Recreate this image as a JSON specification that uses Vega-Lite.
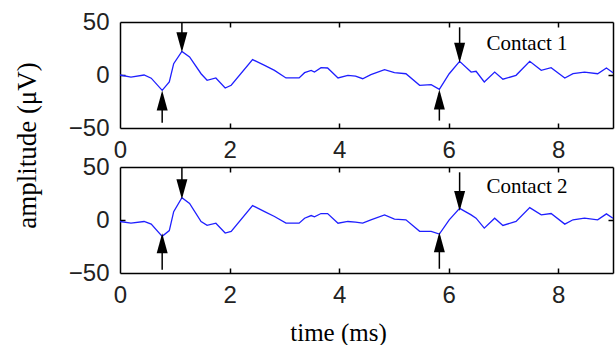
{
  "$schema": "https://vega.github.io/schema/vega-lite/v6.json",
  "background": "white",
  "padding": {"left": 14, "top": 10, "right": 2, "bottom": 0},
  "bounds": "flush",
  "spacing": 39,
  "title": {"text": "amplitude (μV)", "orient": "left", "anchor": "middle", "font": "Liberation Serif", "fontSize": 27, "fontWeight": "normal", "color": "#000", "offset": 26, "dx": 32},
  "config": {
    "view": {"stroke": null},
    "axis": {"grid": false, "domain": true, "domainColor": "#000", "domainWidth": 1.5, "ticks": false, "tickColor": "#000", "tickWidth": 1.5, "tickSize": 5, "labels": false, "labelFlush": false, "labelFont": "Liberation Sans", "labelFontSize": 24, "labelColor": "#222", "title": null, "titleFont": "Liberation Serif", "titleFontWeight": "normal", "titleColor": "#000", "titleFontSize": 25}
  },
  "datasets": {
    "signal": [
      {"panel": 1, "t": 0, "amp": 0}, {"panel": 1, "t": 0.2, "amp": -2}, {"panel": 1, "t": 0.44, "amp": 0}, {"panel": 1, "t": 0.57, "amp": -3},
      {"panel": 1, "t": 0.77, "amp": -14.5}, {"panel": 1, "t": 0.9, "amp": -6.6}, {"panel": 1, "t": 0.98, "amp": 10.7}, {"panel": 1, "t": 1.13, "amp": 22.3},
      {"panel": 1, "t": 1.27, "amp": 17}, {"panel": 1, "t": 1.48, "amp": 1.2}, {"panel": 1, "t": 1.59, "amp": -5}, {"panel": 1, "t": 1.75, "amp": -2.8},
      {"panel": 1, "t": 1.92, "amp": -12.3}, {"panel": 1, "t": 2.03, "amp": -9.7}, {"panel": 1, "t": 2.42, "amp": 14.5}, {"panel": 1, "t": 2.64, "amp": 9.1},
      {"panel": 1, "t": 2.82, "amp": 4.4}, {"panel": 1, "t": 3.03, "amp": -2.8}, {"panel": 1, "t": 3.27, "amp": -2.8}, {"panel": 1, "t": 3.37, "amp": 2.2},
      {"panel": 1, "t": 3.49, "amp": 4.4}, {"panel": 1, "t": 3.55, "amp": 2.8}, {"panel": 1, "t": 3.67, "amp": 6.9}, {"panel": 1, "t": 3.79, "amp": 6.6},
      {"panel": 1, "t": 3.98, "amp": -2.8}, {"panel": 1, "t": 4.16, "amp": -0.3}, {"panel": 1, "t": 4.3, "amp": -1}, {"panel": 1, "t": 4.43, "amp": -3.5},
      {"panel": 1, "t": 4.58, "amp": 0.3}, {"panel": 1, "t": 4.83, "amp": 5}, {"panel": 1, "t": 5.01, "amp": 2.2}, {"panel": 1, "t": 5.22, "amp": 1.2},
      {"panel": 1, "t": 5.47, "amp": -9.7}, {"panel": 1, "t": 5.68, "amp": -9.1}, {"panel": 1, "t": 5.83, "amp": -13.5}, {"panel": 1, "t": 6.01, "amp": 1.2},
      {"panel": 1, "t": 6.2, "amp": 12.9}, {"panel": 1, "t": 6.41, "amp": 2.8}, {"panel": 1, "t": 6.5, "amp": 3.5}, {"panel": 1, "t": 6.65, "amp": -6.6},
      {"panel": 1, "t": 6.84, "amp": 2.8}, {"panel": 1, "t": 6.99, "amp": -4}, {"panel": 1, "t": 7.23, "amp": -0.3}, {"panel": 1, "t": 7.48, "amp": 12.9},
      {"panel": 1, "t": 7.69, "amp": 4.4}, {"panel": 1, "t": 7.87, "amp": 6.9}, {"panel": 1, "t": 8.12, "amp": -2.8}, {"panel": 1, "t": 8.27, "amp": 1.2},
      {"panel": 1, "t": 8.48, "amp": 2.8}, {"panel": 1, "t": 8.72, "amp": 1.2}, {"panel": 1, "t": 8.88, "amp": 6.6}, {"panel": 1, "t": 9.0, "amp": 2.2},
      {"panel": 2, "t": 0, "amp": -1.4}, {"panel": 2, "t": 0.2, "amp": -3}, {"panel": 2, "t": 0.44, "amp": -1.4}, {"panel": 2, "t": 0.57, "amp": -3.9},
      {"panel": 2, "t": 0.77, "amp": -15.4}, {"panel": 2, "t": 0.9, "amp": -10}, {"panel": 2, "t": 0.98, "amp": 7.9}, {"panel": 2, "t": 1.13, "amp": 21},
      {"panel": 2, "t": 1.27, "amp": 15.7}, {"panel": 2, "t": 1.48, "amp": -1.4}, {"panel": 2, "t": 1.59, "amp": -5.1}, {"panel": 2, "t": 1.75, "amp": -3},
      {"panel": 2, "t": 1.92, "amp": -12.3}, {"panel": 2, "t": 2.03, "amp": -10.7}, {"panel": 2, "t": 2.42, "amp": 13.6}, {"panel": 2, "t": 2.64, "amp": 7.9},
      {"panel": 2, "t": 2.82, "amp": 3.3}, {"panel": 2, "t": 3.03, "amp": -3}, {"panel": 2, "t": 3.27, "amp": -3}, {"panel": 2, "t": 3.37, "amp": 1.7},
      {"panel": 2, "t": 3.49, "amp": 4.2}, {"panel": 2, "t": 3.55, "amp": 3}, {"panel": 2, "t": 3.67, "amp": 6.1}, {"panel": 2, "t": 3.79, "amp": 6.1},
      {"panel": 2, "t": 3.98, "amp": -3}, {"panel": 2, "t": 4.16, "amp": -1.4}, {"panel": 2, "t": 4.3, "amp": -2}, {"panel": 2, "t": 4.43, "amp": -3},
      {"panel": 2, "t": 4.58, "amp": 0.2}, {"panel": 2, "t": 4.83, "amp": 4.8}, {"panel": 2, "t": 5.01, "amp": 0.8}, {"panel": 2, "t": 5.22, "amp": 0.2},
      {"panel": 2, "t": 5.47, "amp": -10.7}, {"panel": 2, "t": 5.68, "amp": -10.7}, {"panel": 2, "t": 5.83, "amp": -13.3}, {"panel": 2, "t": 6.01, "amp": 0.2},
      {"panel": 2, "t": 6.2, "amp": 11}, {"panel": 2, "t": 6.41, "amp": 4.8}, {"panel": 2, "t": 6.5, "amp": 1.7}, {"panel": 2, "t": 6.65, "amp": -7.7},
      {"panel": 2, "t": 6.84, "amp": 1.7}, {"panel": 2, "t": 6.99, "amp": -5.1}, {"panel": 2, "t": 7.23, "amp": -1.4}, {"panel": 2, "t": 7.48, "amp": 11.7},
      {"panel": 2, "t": 7.69, "amp": 4.8}, {"panel": 2, "t": 7.87, "amp": 6.1}, {"panel": 2, "t": 8.12, "amp": -3.9}, {"panel": 2, "t": 8.27, "amp": 0.2},
      {"panel": 2, "t": 8.48, "amp": 1.7}, {"panel": 2, "t": 8.72, "amp": 0.2}, {"panel": 2, "t": 8.88, "amp": 5.8}, {"panel": 2, "t": 9.0, "amp": 1.7}
    ],
    "arrows": [
      {"panel": 1, "dir": "down", "t": 1.13, "from": 50, "to": 25, "head": 31},
      {"panel": 1, "dir": "up", "t": 0.77, "from": -45, "to": -18, "head": -24},
      {"panel": 1, "dir": "down", "t": 6.2, "from": 45, "to": 15, "head": 21},
      {"panel": 1, "dir": "up", "t": 5.83, "from": -43, "to": -17, "head": -23},
      {"panel": 2, "dir": "down", "t": 1.13, "from": 50, "to": 23, "head": 29},
      {"panel": 2, "dir": "up", "t": 0.77, "from": -47, "to": -16, "head": -22},
      {"panel": 2, "dir": "down", "t": 6.2, "from": 45, "to": 12, "head": 18},
      {"panel": 2, "dir": "up", "t": 5.83, "from": -46, "to": -15, "head": -21}
    ],
    "labels": [
      {"panel": 1, "label": "Contact 1", "t": 7.43, "amp": 29},
      {"panel": 2, "label": "Contact 2", "t": 7.43, "amp": 31}
    ]
  },
  "vconcat": [
    {
      "width": 493, "height": 106,
      "resolve": {"axis": {"x": "independent", "y": "independent"}},
      "layer": [
        {
          "data": {"name": "signal"},
          "transform": [{"filter": "datum.panel == 1"}],
          "mark": {"type": "line", "color": "#1f1fff", "strokeWidth": 1.3},
          "encoding": {
            "x": {"field": "t", "type": "quantitative", "scale": {"domain": [0, 9], "nice": false}, "axis": {"orient": "bottom", "values": [0, 2, 4, 6, 8], "labels": true, "labelPadding": 10}},
            "y": {"field": "amp", "type": "quantitative", "scale": {"domain": [-50, 50], "nice": false}, "axis": {"orient": "left", "values": [-50, 0, 50], "labels": true, "labelPadding": 11}}
          }
        },
        {
          "data": {"name": "arrows"},
          "transform": [{"filter": "datum.panel == 1"}],
          "mark": {"type": "rule", "color": "#000", "strokeWidth": 1.5},
          "encoding": {
            "x": {"field": "t", "type": "quantitative", "axis": {"orient": "top"}},
            "y": {"field": "from", "type": "quantitative", "axis": {"orient": "right"}},
            "y2": {"field": "to"}
          }
        },
        {
          "data": {"name": "arrows"},
          "transform": [{"filter": "datum.panel == 1 && datum.dir == 'down'"}],
          "mark": {"type": "point", "shape": "M-0.55,-1L0.55,-1L0,1Z", "filled": true, "color": "#000", "size": 400, "opacity": 1},
          "encoding": {
            "x": {"field": "t", "type": "quantitative", "axis": {"orient": "top", "offset": -106, "domain": false, "ticks": true, "values": [2, 4, 6, 8]}},
            "y": {"field": "head", "type": "quantitative", "axis": {"orient": "right", "offset": -493, "domain": false, "ticks": true, "values": [0]}}
          }
        },
        {
          "data": {"name": "arrows"},
          "transform": [{"filter": "datum.panel == 1 && datum.dir == 'up'"}],
          "mark": {"type": "point", "shape": "M-0.55,1L0.55,1L0,-1Z", "filled": true, "color": "#000", "size": 400, "opacity": 1},
          "encoding": {
            "x": {"field": "t", "type": "quantitative", "axis": {"orient": "bottom", "offset": -106, "domain": false, "ticks": true, "values": [2, 4, 6, 8]}},
            "y": {"field": "head", "type": "quantitative", "axis": {"orient": "left", "offset": -493, "domain": false, "ticks": true, "values": [0]}}
          }
        },
        {
          "data": {"name": "labels"},
          "transform": [{"filter": "datum.panel == 1"}],
          "mark": {"type": "text", "font": "Liberation Serif", "fontSize": 21, "color": "#000", "align": "center", "baseline": "middle"},
          "encoding": {"x": {"field": "t", "type": "quantitative", "axis": null}, "y": {"field": "amp", "type": "quantitative", "axis": null}, "text": {"field": "label"}}
        }
      ]
    },
    {
      "width": 493, "height": 106,
      "resolve": {"axis": {"x": "independent", "y": "independent"}},
      "layer": [
        {
          "data": {"name": "signal"},
          "transform": [{"filter": "datum.panel == 2"}],
          "mark": {"type": "line", "color": "#1f1fff", "strokeWidth": 1.3},
          "encoding": {
            "x": {"field": "t", "type": "quantitative", "scale": {"domain": [0, 9], "nice": false}, "axis": {"orient": "bottom", "values": [0, 2, 4, 6, 8], "labels": true, "labelPadding": 10, "title": "time (ms)", "titlePadding": 13, "titleX": 218}},
            "y": {"field": "amp", "type": "quantitative", "scale": {"domain": [-50, 50], "nice": false}, "axis": {"orient": "left", "values": [-50, 0, 50], "labels": true, "labelPadding": 11}}
          }
        },
        {
          "data": {"name": "arrows"},
          "transform": [{"filter": "datum.panel == 2"}],
          "mark": {"type": "rule", "color": "#000", "strokeWidth": 1.5},
          "encoding": {
            "x": {"field": "t", "type": "quantitative", "axis": {"orient": "top"}},
            "y": {"field": "from", "type": "quantitative", "axis": {"orient": "right"}},
            "y2": {"field": "to"}
          }
        },
        {
          "data": {"name": "arrows"},
          "transform": [{"filter": "datum.panel == 2 && datum.dir == 'down'"}],
          "mark": {"type": "point", "shape": "M-0.55,-1L0.55,-1L0,1Z", "filled": true, "color": "#000", "size": 400, "opacity": 1},
          "encoding": {
            "x": {"field": "t", "type": "quantitative", "axis": {"orient": "top", "offset": -106, "domain": false, "ticks": true, "values": [2, 4, 6, 8]}},
            "y": {"field": "head", "type": "quantitative", "axis": {"orient": "right", "offset": -493, "domain": false, "ticks": true, "values": [0]}}
          }
        },
        {
          "data": {"name": "arrows"},
          "transform": [{"filter": "datum.panel == 2 && datum.dir == 'up'"}],
          "mark": {"type": "point", "shape": "M-0.55,1L0.55,1L0,-1Z", "filled": true, "color": "#000", "size": 400, "opacity": 1},
          "encoding": {
            "x": {"field": "t", "type": "quantitative", "axis": {"orient": "bottom", "offset": -106, "domain": false, "ticks": true, "values": [2, 4, 6, 8]}},
            "y": {"field": "head", "type": "quantitative", "axis": {"orient": "left", "offset": -493, "domain": false, "ticks": true, "values": [0]}}
          }
        },
        {
          "data": {"name": "labels"},
          "transform": [{"filter": "datum.panel == 2"}],
          "mark": {"type": "text", "font": "Liberation Serif", "fontSize": 21, "color": "#000", "align": "center", "baseline": "middle"},
          "encoding": {"x": {"field": "t", "type": "quantitative", "axis": null}, "y": {"field": "amp", "type": "quantitative", "axis": null}, "text": {"field": "label"}}
        }
      ]
    }
  ]
}
